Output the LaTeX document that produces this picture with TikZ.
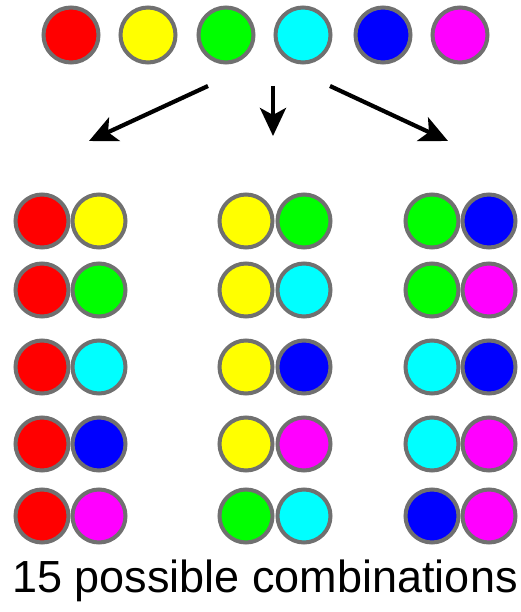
\documentclass[tikz,border=0pt]{standalone}
\usepackage{fontspec}
\setmainfont{Liberation Sans}
\usetikzlibrary{arrows.meta}
\definecolor{rim}{RGB}{112,112,112}
\definecolor{cR}{RGB}{255,0,0}
\definecolor{cY}{RGB}{255,255,0}
\definecolor{cG}{RGB}{0,255,0}
\definecolor{cC}{RGB}{0,255,255}
\definecolor{cB}{RGB}{0,0,255}
\definecolor{cM}{RGB}{255,0,255}
\tikzset{
  ball/.style={circle, draw=rim, line width=4pt, fill=#1, minimum size=55pt, inner sep=0pt},
  sball/.style={circle, draw=rim, line width=4pt, fill=#1, minimum size=53pt, inner sep=0pt},
  arr/.style={line width=4.2pt, -{Stealth[length=28pt,width=26pt,inset=7pt]}}
}
\begin{document}
\begin{tikzpicture}[x=1pt,y=-1pt]
\useasboundingbox (0,0) rectangle (521,612);
% top row
\node[ball=cR] (t1) at (71,35) {};
\node[ball=cY] (t2) at (148,35) {};
\node[ball=cG] (t3) at (226,35) {};
\node[ball=cC] (t4) at (303,35) {};
\node[ball=cB] (t5) at (383,35) {};
\node[ball=cM] (t6) at (460,35) {};
% arrows
\coordinate (a1s) at (208,86); \coordinate (a1e) at (89,141);
\coordinate (a2s) at (273,86); \coordinate (a2e) at (273,136);
\coordinate (a3s) at (330,86); \coordinate (a3e) at (448,141);
\draw[arr] (a1s) -- (a1e);
\draw[arr] (a2s) -- (a2e);
\draw[arr] (a3s) -- (a3e);
% pairs
\foreach \y/\a/\b/\c/\d/\e/\f [count=\i] in {221/cR/cY/cY/cG/cG/cB, 290/cR/cG/cY/cC/cG/cM, 367/cR/cC/cY/cB/cC/cB, 444/cR/cB/cY/cM/cC/cM, 516/cR/cM/cG/cC/cB/cM}{
  \node[sball=\a] (p\i a) at (42,\y) {};
  \node[sball=\b] (p\i b) at (99,\y) {};
  \node[sball=\c] (q\i a) at (246,\y) {};
  \node[sball=\d] (q\i b) at (304,\y) {};
  \node[sball=\e] (r\i a) at (432,\y) {};
  \node[sball=\f] (r\i b) at (489,\y) {};
}
\node[anchor=base, font=\fontsize{45}{50}\selectfont, inner sep=0pt] (cap) at (265,592) {15 possible combinations};
\end{tikzpicture}
\end{document}
